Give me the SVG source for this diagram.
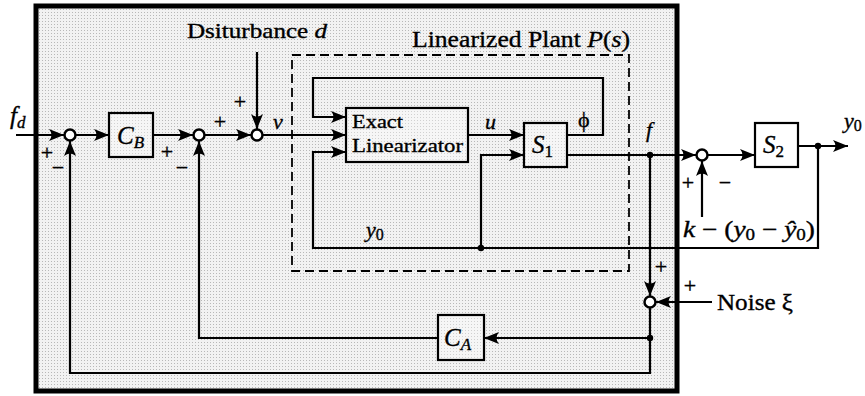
<svg xmlns="http://www.w3.org/2000/svg" width="865" height="396" viewBox="0 0 865 396">
<defs>
<marker id="ah" markerUnits="userSpaceOnUse" markerWidth="16" markerHeight="14" refX="15" refY="6.5" orient="auto">
<path d="M0,0.5 L15,6.5 L0,12.5 Q5,6.5 0,0.5 Z" fill="#000"/>
</marker>
<pattern id="dots" width="3" height="3" patternUnits="userSpaceOnUse">
<rect width="3" height="3" fill="#f2f2f2"/>
<rect width="1" height="1" fill="#b8b8b8"/>
</pattern>
</defs>
<style>
.ln{fill:none;stroke:#000;stroke-width:2.2}
.ar{marker-end:url(#ah)}
.bx{fill:#fff;fill-opacity:0.35;stroke:#000;stroke-width:2.2}
.sj{fill:#fff;stroke:#000;stroke-width:2.5}
.dot{fill:#000}
.t{font-family:"Liberation Serif","Times New Roman",serif;fill:#000;stroke:#000;stroke-width:0.35}
.i{font-style:italic}
.sg{font-family:"Liberation Serif",serif;font-size:22px;text-anchor:middle;fill:#000;stroke:#000;stroke-width:0.4}
</style>
<rect width="865" height="396" fill="#fff"/>
<g id="frame">
<rect x="36" y="6" width="641" height="385" fill="url(#dots)" stroke="#000" stroke-width="5"/>
</g>
<g id="plant-boundary">
<rect x="292" y="55" width="337" height="216" fill="none" stroke="#000" stroke-width="1.8" stroke-dasharray="9,5"/>
<text class="t" x="412" y="47" font-size="23" textLength="218" lengthAdjust="spacingAndGlyphs">Linearized Plant <tspan class="i">P</tspan>(<tspan class="i">s</tspan>)</text>
</g>
<g id="connectors">
<path class="ln ar" d="M16,135 H64"/>
<path class="ln ar" d="M76,135 H109"/>
<path class="ln ar" d="M153,135 H193"/>
<path class="ln ar" d="M205,135 H251"/>
<path class="ln ar" d="M257,52 V129"/>
<path class="ln ar" d="M263,135 H346"/>
<path class="ln ar" d="M567,135 H603 V78 H313 V117 H346"/>
<path class="ln ar" d="M818,146 V248 H313 V152 H346"/>
<path class="ln ar" d="M481,248 V155 H524"/>
<path class="ln ar" d="M468,135 H524"/>
<path class="ln ar" d="M567,155 H696"/>
<path class="ln ar" d="M708,155 H755"/>
<path class="ln ar" d="M798,146 H848"/>
<path class="ln ar" d="M702,217 V161"/>
<path class="ln ar" d="M650,155 V296"/>
<path class="ln ar" d="M712,302 H656"/>
<path class="ln ar" d="M650,308 V373 H70 V141"/>
<path class="ln ar" d="M650,338 H484"/>
<path class="ln ar" d="M438,338 H199 V141"/>
<circle class="dot" cx="481" cy="248" r="3.2"/>
<circle class="dot" cx="650" cy="155" r="3.2"/>
<circle class="dot" cx="818" cy="146" r="3.2"/>
<circle class="dot" cx="650" cy="338" r="3.2"/>
</g>
<g id="sum1">
<circle class="sj" cx="70" cy="135" r="5.5"/>
<text class="sg" x="47" y="160">+</text>
<text class="sg" x="58" y="175">−</text>
</g>
<g id="sum2">
<circle class="sj" cx="199" cy="135" r="5.5"/>
<text class="sg" x="167" y="159">+</text>
<text class="sg" x="182" y="175">−</text>
</g>
<g id="sum3">
<circle class="sj" cx="257" cy="135" r="5.5"/>
<text class="sg" x="240" y="109">+</text>
<text class="sg" x="220" y="129">+</text>
</g>
<g id="sum4">
<circle class="sj" cx="702" cy="155" r="5.5"/>
<text class="sg" x="688" y="190">+</text>
<text class="sg" x="725" y="190">−</text>
</g>
<g id="sum5">
<circle class="sj" cx="650" cy="302" r="5.5"/>
<text class="sg" x="661" y="274">+</text>
<text class="sg" x="690" y="293">+</text>
</g>
<g id="CB">
<rect class="bx" x="109" y="113" width="44" height="44"/>
<text class="t i" x="117" y="144" font-size="25">C<tspan font-size="17" dy="4">B</tspan></text>
</g>
<g id="exact-linearizator">
<rect class="bx" x="346" y="108" width="122" height="54"/>
<text class="t" x="352" y="128" font-size="19" textLength="51" lengthAdjust="spacingAndGlyphs">Exact</text>
<text class="t" x="352" y="152" font-size="19" textLength="111" lengthAdjust="spacingAndGlyphs">Linearizator</text>
</g>
<g id="S1">
<rect class="bx" x="524" y="123" width="43" height="44"/>
<text class="t i" x="532" y="153" font-size="25">S<tspan font-size="17" font-style="normal" dy="4">1</tspan></text>
</g>
<g id="S2">
<rect class="bx" x="755" y="123" width="43" height="44"/>
<text class="t i" x="763" y="153" font-size="25">S<tspan font-size="17" font-style="normal" dy="4">2</tspan></text>
</g>
<g id="CA">
<rect class="bx" x="438" y="315" width="46" height="45"/>
<text class="t i" x="444" y="346" font-size="25">C<tspan font-size="17" dy="4">A</tspan></text>
</g>
<g id="labels">
<text class="t i" x="10" y="124" font-size="25">f<tspan font-size="17" dy="4">d</tspan></text>
<text class="t" x="187" y="38" font-size="21" textLength="140" lengthAdjust="spacingAndGlyphs">Dsiturbance <tspan class="i">d</tspan></text>
<text class="t i" x="273" y="129" font-size="22">v</text>
<text class="t i" x="485" y="129" font-size="22">u</text>
<text class="t" x="578" y="127" font-size="22">ϕ</text>
<text class="t i" x="646" y="137" font-size="22">f</text>
<text class="t i" x="844" y="128" font-size="22">y<tspan font-size="16" font-style="normal" dy="3">0</tspan></text>
<text class="t i" x="366" y="237" font-size="22">y<tspan font-size="16" font-style="normal" dy="3">0</tspan></text>
<text class="t" x="683" y="237" font-size="23" textLength="132" lengthAdjust="spacingAndGlyphs"><tspan class="i">k</tspan> − (<tspan class="i">y</tspan><tspan font-size="16" dy="3">0</tspan><tspan dy="-3"> − </tspan><tspan class="i">ŷ</tspan><tspan font-size="16" dy="3">0</tspan><tspan dy="-3">)</tspan></text>
<text class="t" x="717" y="310" font-size="23" textLength="76" lengthAdjust="spacingAndGlyphs">Noise ξ</text>
</g>
</svg>
